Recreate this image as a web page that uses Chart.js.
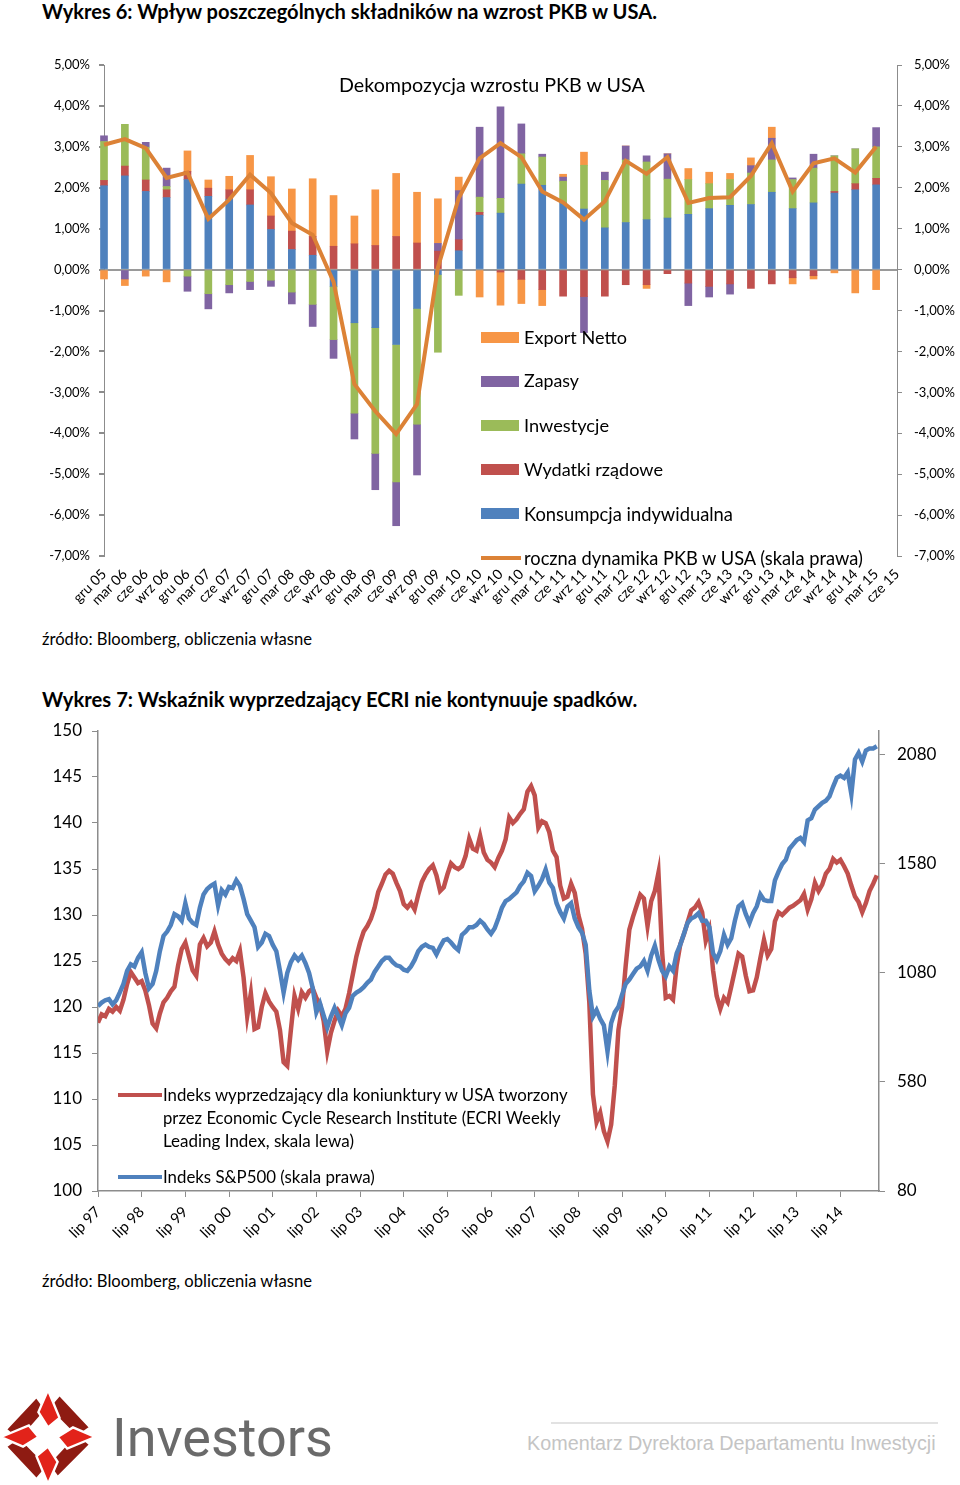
<!DOCTYPE html>
<html><head><meta charset="utf-8">
<script src="https://cdn.jsdelivr.net/npm/chart.js@4.4.1/dist/chart.umd.min.js"></script>
<style>
body{margin:0;background:#fff;}
#page{position:relative;width:960px;height:1485px;overflow:hidden;font-family:Lato,'Open Sans',sans-serif;color:#000;}
.t{position:absolute;white-space:nowrap;line-height:1;transform:translateY(-50%);display:inline-block;}
.b{font-weight:bold;}
canvas{position:absolute;left:0;}
.sw{position:absolute;}
</style></head>
<body><div id="page">

<div class="t b" style="left:42px;top:11px;font-size:20px" data-w="615">Wykres 6: Wpływ poszczególnych składników na wzrost PKB w USA.</div>
<canvas id="c1" width="960" height="580" style="top:40px"></canvas>
<div class="t" style="left:339px;top:85px;font-size:19px" data-w="306">Dekompozycja wzrostu PKB w USA</div>

<div class="sw" style="left:481px;top:332px;width:38px;height:11px;background:#F79646"></div>
<div class="t" style="left:524px;top:337px;font-size:17px" data-w="103">Export Netto</div>
<div class="sw" style="left:481px;top:376px;width:38px;height:11px;background:#8064A2"></div>
<div class="t" style="left:524px;top:381px;font-size:17px" data-w="55">Zapasy</div>
<div class="sw" style="left:481px;top:420px;width:38px;height:11px;background:#9BBB59"></div>
<div class="t" style="left:524px;top:425px;font-size:17px" data-w="85">Inwestycje</div>
<div class="sw" style="left:481px;top:464px;width:38px;height:11px;background:#C0504D"></div>
<div class="t" style="left:524px;top:469px;font-size:17px" data-w="139">Wydatki rządowe</div>
<div class="sw" style="left:481px;top:508px;width:38px;height:11px;background:#4F81BD"></div>
<div class="t" style="left:524px;top:514px;font-size:17px" data-w="209">Konsumpcja indywidualna</div>
<div class="sw" style="left:481px;top:556px;width:40px;height:4px;background:#DC8236"></div>
<div class="t" style="left:524px;top:558px;font-size:17px" data-w="339">roczna dynamika PKB w USA (skala prawa)</div>

<div class="t" style="left:42px;top:639px;font-size:16px" data-w="270">źródło: Bloomberg, obliczenia własne</div>

<div class="t b" style="left:42px;top:699px;font-size:20px" data-w="596">Wykres 7: Wskaźnik wyprzedzający ECRI nie kontynuuje spadków.</div>
<canvas id="c2" width="960" height="545" style="top:715px"></canvas>

<div class="sw" style="left:118px;top:1093px;width:44px;height:4px;background:#C0504D"></div>
<div class="t" style="left:163px;top:1095px;font-size:16px" data-w="405">Indeks wyprzedzający dla koniunktury w USA tworzony</div>
<div class="t" style="left:163px;top:1118px;font-size:16px" data-w="398">przez Economic Cycle Research Institute (ECRI Weekly</div>
<div class="t" style="left:163px;top:1140px;font-size:16px" data-w="191">Leading Index, skala lewa)</div>
<div class="sw" style="left:118px;top:1175px;width:44px;height:4px;background:#4F81BD"></div>
<div class="t" style="left:163px;top:1177px;font-size:16px" data-w="212">Indeks S&amp;P500 (skala prawa)</div>

<div class="t" style="left:42px;top:1281px;font-size:16px" data-w="270">źródło: Bloomberg, obliczenia własne</div>

<svg style="position:absolute;left:0;top:1389px" width="96" height="96" viewBox="0 0 100 100">
  <g stroke="#fff" stroke-width="2.5" stroke-linejoin="miter">
    <polygon points="6,42 38,8 48,22 20,54" fill="#8E1B12"/>
    <polygon points="62,6 94,40 80,50 50,20" fill="#8E1B12"/>
    <polygon points="94,58 60,92 50,78 80,46" fill="#8E1B12"/>
    <polygon points="38,94 6,60 20,50 50,80" fill="#8E1B12"/>
    <polygon points="50,1 62,30 50,40 40,24" fill="#E2231A"/>
    <polygon points="99,50 70,62 60,50 76,40" fill="#E2231A"/>
    <polygon points="50,99 38,70 50,60 60,76" fill="#E2231A"/>
    <polygon points="1,50 30,38 40,50 24,60" fill="#E2231A"/>
  </g>
</svg>
<div class="t" style="left:112px;top:1438px;font-size:56px;color:#6a6a6a;font-family:Roboto,sans-serif" data-w="221">Investors</div>
<div style="position:absolute;left:551px;top:1422px;width:387px;height:2px;background:#e2e2e2"></div>
<div class="t" style="left:527px;top:1444px;font-size:20px;color:#c4c4c4;font-family:'Liberation Sans Narrow','Liberation Sans',sans-serif" data-w="409">Komentarz Dyrektora Departamentu Inwestycji</div>

</div>
<script>
// ---------- Chart 6 data ----------
const quarterLabels = ['gru 05','mar 06','cze 06','wrz 06','gru 06','mar 07','cze 07','wrz 07','gru 07','mar 08','cze 08','wrz 08','gru 08','mar 09','cze 09','wrz 09','gru 09','mar 10','cze 10','wrz 10','gru 10','mar 11','cze 11','wrz 11','gru 11','mar 12','cze 12','wrz 12','gru 12','mar 13','cze 13','wrz 13','gru 13','mar 14','cze 14','wrz 14','gru 14','mar 15','cze 15'];
const konsumpcja = [2.05,2.29,1.91,1.76,2.20,1.79,1.72,1.58,0.98,0.49,0.35,-0.41,-1.30,-1.42,-1.83,-0.95,-0.12,0.46,1.33,1.38,2.09,2.06,1.63,1.48,1.02,1.15,1.22,1.26,1.35,1.49,1.57,1.59,1.89,1.49,1.63,1.87,1.95,2.07,null];
const wydatki = [0.13,0.24,0.28,0.19,0.20,0.20,0.23,0.37,0.33,0.45,0.46,0.57,0.63,0.59,0.81,0.65,0.45,0.27,0.07,-0.06,-0.24,-0.49,-0.65,-0.66,-0.65,-0.37,-0.37,-0.10,-0.33,-0.41,-0.35,-0.46,-0.35,-0.20,-0.15,0.04,0.15,0.16,null];
const inwestycje = [0.95,1.02,0.80,0.08,-0.16,-0.59,-0.37,-0.29,-0.26,-0.55,-0.85,-1.30,-2.21,-3.07,-3.36,-2.83,-1.90,-0.63,0.37,0.36,0.74,0.69,0.53,1.07,1.16,1.53,1.41,0.95,0.85,0.61,0.63,0.77,0.79,0.71,0.85,0.87,0.85,0.77,null];
const zapasy = [0.14,-0.23,0.12,0.45,-0.37,-0.37,-0.20,-0.20,-0.15,-0.29,-0.54,-0.46,-0.63,-0.89,-1.07,-1.24,0.19,1.20,1.71,2.24,0.73,0.07,0.10,-0.88,0.20,0.34,0.15,0.62,-0.55,-0.26,-0.25,0.18,0.53,0.04,0.34,0,0,0.47,null];
const exportNetto = [-0.23,-0.16,-0.16,-0.30,0.50,0.20,0.33,0.84,0.96,1.03,1.41,1.24,0.68,1.36,1.54,1.24,1.09,0.33,-0.67,-0.81,-0.59,-0.39,0.07,0.32,0,0,-0.09,0,0.27,0.28,0.15,0.19,0.27,-0.15,-0.08,-0.08,-0.57,-0.49,null];
const pkbRoczna = [3.05,3.19,2.97,2.24,2.37,1.24,1.71,2.32,1.87,1.14,0.85,-0.30,-2.80,-3.46,-4.02,-3.29,0.05,1.75,2.72,3.09,2.75,1.91,1.64,1.22,1.67,2.66,2.34,2.75,1.63,1.75,1.77,2.29,3.09,1.91,2.60,2.72,2.37,3.00,null];
const pctTicks = [-7,-6,-5,-4,-3,-2,-1,0,1,2,3,4,5];

// ---------- Chart 7 data (monthly, index 0 = lipiec 1997) ----------
const yearTickMonths = [0,12,24,36,48,60,72,84,96,108,120,132,144,156,168,180,192,204];
const yearTickLabels = ['lip 97','lip 98','lip 99','lip 00','lip 01','lip 02','lip 03','lip 04','lip 05','lip 06','lip 07','lip 08','lip 09','lip 10','lip 11','lip 12','lip 13','lip 14'];
const spxTicks = [80,580,1080,1580,2080];
const ecri = [
118.3,119.2,119.0,119.8,119.5,120.0,119.6,120.8,122.5,123.8,123.2,122.6,
122.8,121.8,120.2,118.2,117.7,119.3,120.5,121.0,121.7,122.2,124.5,126.3,
127.0,125.5,124.0,123.4,126.8,127.5,126.6,127.0,128.2,126.8,125.8,125.2,
124.8,125.3,125.0,126.1,123.2,119.0,121.5,117.6,117.8,120.0,121.5,120.6,
120.0,119.5,117.5,114.0,113.6,117.5,121.2,119.8,121.6,121.0,121.7,122.0,
121.0,120.3,118.5,115.2,117.2,118.5,119.6,119.0,119.8,121.5,123.5,125.5,
127.0,128.2,128.8,129.6,130.8,132.5,133.4,134.4,134.8,134.5,133.5,132.6,
131.2,130.8,131.3,130.6,132.2,133.6,134.4,135.0,135.4,134.3,132.6,133.0,
134.4,135.6,135.2,135.0,135.3,136.4,138.3,137.2,137.0,138.6,136.8,136.0,
135.7,135.2,136.2,137.0,138.2,140.6,140.0,140.4,141.0,141.5,143.4,144.0,
143.0,139.5,140.2,140.0,139.0,137.0,136.3,133.2,131.8,132.0,133.4,132.4,
130.0,128.5,125.8,120.5,110.5,107.5,108.5,106.5,105.4,107.2,111.5,117.5,
120.0,124.5,128.4,129.8,131.0,132.2,131.8,128.8,131.5,132.6,134.6,126.0,
121.0,121.2,120.8,124.5,126.8,127.9,129.2,130.5,130.8,131.4,130.3,127.2,
128.4,124.0,121.2,119.8,121.0,120.5,122.2,124.0,125.8,125.5,123.4,121.7,
121.8,123.2,125.3,127.3,125.6,126.3,129.3,130.3,130.0,130.4,130.8,131.0,
131.3,131.6,132.3,130.6,131.7,133.5,132.6,133.3,134.5,135.0,136.1,135.7,
136.0,135.3,134.5,133.2,132.0,131.4,130.3,131.3,132.6,133.4,134.3];
const spx = [
928,944,955,960,936,955,991,1030,1090,1120,1110,1150,
1175,1080,1010,1030,1090,1180,1250,1270,1300,1350,1340,1320,
1400,1330,1310,1300,1380,1440,1465,1480,1490,1390,1460,1440,
1475,1470,1505,1480,1420,1350,1320,1290,1200,1220,1260,1250,
1210,1180,1090,990,1080,1130,1160,1140,1160,1125,1080,1010,
900,940,885,830,880,920,881,840,895,920,975,990,
1000,1015,1035,1050,1085,1110,1135,1150,1150,1130,1115,1110,
1095,1090,1110,1140,1180,1200,1210,1200,1195,1165,1200,1230,
1236,1220,1200,1185,1255,1270,1290,1290,1300,1320,1305,1280,
1260,1285,1330,1380,1410,1420,1435,1450,1480,1500,1540,1525,
1455,1480,1510,1555,1495,1470,1400,1360,1330,1385,1400,1330,
1290,1265,1210,1000,880,910,870,840,720,850,900,925,
980,1030,1050,1075,1100,1110,1135,1090,1160,1205,1140,1090,
1065,1110,1090,1170,1210,1260,1310,1330,1338,1354,1320,1320,
1290,1170,1140,1180,1255,1210,1240,1320,1385,1400,1350,1310,
1354,1385,1440,1415,1410,1410,1505,1545,1580,1600,1650,1670,
1690,1700,1680,1780,1790,1830,1845,1860,1870,1890,1935,1975,
1985,1975,2000,1900,2060,2090,2050,2100,2110,2110,2120];

// ---------- fit HTML text widths ----------
document.querySelectorAll('[data-w]').forEach(el => {
  const target = +el.dataset.w;
  const w = el.getBoundingClientRect().width;
  const fs = parseFloat(getComputedStyle(el).fontSize);
  if (w > 0) el.style.fontSize = (fs * target / w).toFixed(2) + 'px';
});

Chart.defaults.font.family = "Lato, 'Open Sans', sans-serif";
Chart.defaults.color = '#000';
const AX = '#8c8c8c';
const fmtPct = v => v.toFixed(2).replace('.', ',') + '%';
const noVPad = s => { s.paddingTop = 4; s.paddingBottom = 4; };

// ---------- Chart 6 ----------
const barDs = (label, data, color) => ({type:'bar', label, data, backgroundColor:color, borderWidth:0, yAxisID:'y', stack:'s', order:1, barThickness:7, clip:false});
new Chart(document.getElementById('c1'), {
  data: {
    labels: quarterLabels,
    datasets: [
      {type:'line', label:'roczna dynamika PKB w USA (skala prawa)', data:pkbRoczna, yAxisID:'yR', borderColor:'#DC8236', borderWidth:4, pointRadius:0, tension:0, order:0, clip:false},
      barDs('Konsumpcja indywidualna', konsumpcja, '#4F81BD'),
      barDs('Wydatki rządowe', wydatki, '#C0504D'),
      barDs('Inwestycje', inwestycje, '#9BBB59'),
      barDs('Zapasy', zapasy, '#8064A2'),
      barDs('Export Netto', exportNetto, '#F79646')
    ]
  },
  options: {
    responsive:false, animation:false, devicePixelRatio:1,
    layout:{padding:{top:25,left:0,right:0,bottom:0}},
    plugins:{legend:{display:false}, tooltip:{enabled:false}},
    scales:{
      x:{stacked:true, offset:false, grid:{display:false, drawTicks:false}, border:{display:false},
         ticks:{minRotation:45, maxRotation:45, autoSkip:false, padding:10, font:{size:14}, color:'#000'},
         afterFit(s){ s.height = 64; }},
      y:{position:'left', stacked:true, min:-7, max:5,
         afterBuildTicks(s){ s.ticks = pctTicks.map(v => ({value:v})); },
         ticks:{callback:fmtPct, font:{size:13}, color:'#000', padding:9},
         grid:{color:c => (c.tick && c.tick.value === 0) ? '#9a9a9a' : 'rgba(0,0,0,0)', lineWidth:2, tickColor:AX, tickLength:5},
         border:{display:true, color:AX, width:1},
         afterFit(s){ s.width = 104; noVPad(s); }},
      yR:{position:'right', min:-7, max:5,
         afterBuildTicks(s){ s.ticks = pctTicks.map(v => ({value:v})); },
         ticks:{callback:fmtPct, font:{size:13}, color:'#000', padding:12},
         grid:{drawOnChartArea:false, tickColor:AX, tickLength:5},
         border:{display:true, color:AX, width:1},
         afterFit(s){ s.width = 63; noVPad(s); }}
    }
  }
});

// ---------- Chart 7 ----------
new Chart(document.getElementById('c2'), {
  type:'line',
  data:{ datasets:[
    {label:'Indeks S&P500 (skala prawa)', data:spx.map((v,i)=>({x:i,y:v})), yAxisID:'yR', borderColor:'#4F81BD', borderWidth:4.5, pointRadius:0, tension:0, order:0},
    {label:'ECRI Weekly Leading Index', data:ecri.map((v,i)=>({x:i,y:v})), yAxisID:'y', borderColor:'#C0504D', borderWidth:4.5, pointRadius:0, tension:0, order:1}
  ]},
  options:{
    responsive:false, animation:false, devicePixelRatio:1,
    layout:{padding:{top:16,left:0,right:0,bottom:0}},
    plugins:{legend:{display:false}, tooltip:{enabled:false}},
    scales:{
      x:{type:'linear', min:0, max:214.6,
         afterBuildTicks(s){ s.ticks = yearTickMonths.map(v => ({value:v})); },
         ticks:{callback:(v,i) => yearTickLabels[i], minRotation:45, maxRotation:45, autoSkip:false, padding:6, font:{size:15}, color:'#000'},
         grid:{drawOnChartArea:false, tickColor:AX, tickLength:6},
         border:{display:true, color:AX, width:1.5},
         afterFit(s){ s.height = 69; }},
      y:{position:'left', min:100, max:150,
         ticks:{stepSize:5, font:{size:17}, color:'#000', padding:10},
         grid:{drawOnChartArea:false, tickColor:AX, tickLength:6},
         border:{display:true, color:AX, width:1.5},
         afterFit(s){ s.width = 98; noVPad(s); }},
      yR:{position:'right', min:80, max:2190,
         afterBuildTicks(s){ s.ticks = spxTicks.map(v => ({value:v})); },
         ticks:{callback:v => String(v), font:{size:17}, color:'#000', padding:12},
         grid:{drawOnChartArea:false, tickColor:AX, tickLength:6},
         border:{display:true, color:AX, width:1.5},
         afterFit(s){ s.width = 81; noVPad(s); }}
    }
  }
});
</script>
</body></html>
